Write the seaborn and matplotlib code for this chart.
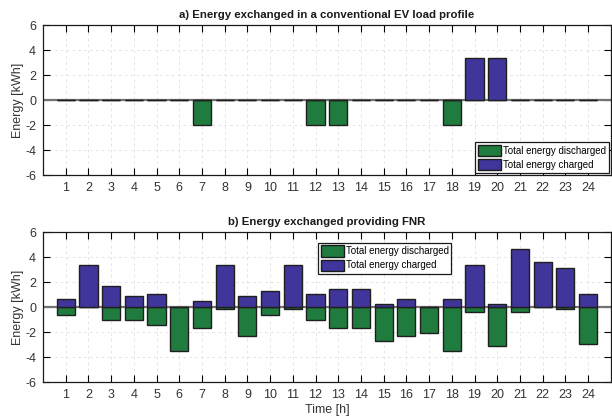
import numpy as np
import pandas as pd
import matplotlib
matplotlib.use('Agg')
import matplotlib.pyplot as plt
import seaborn as sns

hours = list(range(1, 25))

# a) conventional EV load profile
conv_discharged = [0, 0, 0, 0, 0, 0, -2, 0, 0, 0, 0, -2, -2, 0, 0, 0, 0, -2, 0, 0, 0, 0, 0, 0]
conv_charged = [0, 0, 0, 0, 0, 0, 0, 0, 0, 0, 0, 0, 0, 0, 0, 0, 0, 0, 3.33, 3.33, 0, 0, 0, 0]

# b) providing FNR
fnr_discharged = [-0.61, 0, -1.07, -1.07, -1.47, -3.55, -1.65, -0.19, -2.29, -0.61, -0.19, -1.07,
                  -1.65, -1.65, -2.75, -2.29, -2.11, -3.55, -0.43, -3.12, -0.43, 0, -0.19, -2.93]
fnr_charged = [0.64, 3.36, 1.68, 0.85, 1.07, 0, 0.45, 3.36, 0.85, 1.28, 3.36, 1.07,
               1.47, 1.47, 0.21, 0.64, 0, 0.64, 3.36, 0.21, 4.61, 3.57, 3.15, 1.07]

lbl_dis = 'Total energy discharged'
lbl_chg = 'Total energy charged'
colores = {lbl_dis: '#1f7b3e', lbl_chg: '#40359a'}

plt.rcParams['axes.unicode_minus'] = False
plt.rcParams['font.family'] = ['Liberation Sans', 'DejaVu Sans']


def armar_df(dis, chg):
    return pd.concat([
        pd.DataFrame({'hour': hours, 'energy': dis, 'kind': lbl_dis}),
        pd.DataFrame({'hour': hours, 'energy': chg, 'kind': lbl_chg}),
    ], ignore_index=True)


fig = plt.figure(figsize=(6.12, 4.17), dpi=100)
ax1 = fig.add_axes([0.0703, 0.5803, 0.9277, 0.3597])
ax2 = fig.add_axes([0.0703, 0.0839, 0.9277, 0.3597])

paneles = [
    (ax1, armar_df(conv_discharged, conv_charged), 'a) Energy exchanged in a conventional EV load profile'),
    (ax2, armar_df(fnr_discharged, fnr_charged), 'b) Energy exchanged providing FNR'),
]

for ax, df, titulo in paneles:
    ax.set_axisbelow(True)
    ax.axhline(0, color='0.45', lw=1.6, zorder=1)
    sns.barplot(data=df, x='hour', y='energy', hue='kind', dodge=False, width=0.8,
                hue_order=[lbl_dis, lbl_chg], palette=colores, edgecolor='0.12',
                linewidth=1.0, errorbar=None, saturation=1, ax=ax, zorder=2)
    ax.set_xlim(-1, 24)
    ax.set_ylim(-6, 6)
    ax.set_yticks(np.arange(-6, 7, 2))
    ax.grid(True, ls=(0, (3, 4)), color='0.87', lw=0.6)
    ax.tick_params(direction='in', top=True, right=True, length=5, width=0.8,
                   labelsize=9, labelcolor='0.2', pad=5)
    for s in ax.spines.values():
        s.set_color('0.1')
        s.set_linewidth(0.9)
    ax.set_xlabel('')
    ax.set_ylabel('Energy [kWh]', fontsize=9, color='0.2', labelpad=1)
    ax.set_title(titulo, fontsize=8.2, fontweight='bold', color='0.1', pad=5,
                 family=['Liberation Sans Narrow', 'Liberation Sans'])

leg_kw = dict(fontsize=7, fancybox=False, framealpha=1, edgecolor='0.1',
              handlelength=2.4, handleheight=1.4, handletextpad=0.15,
              labelspacing=0.3, borderpad=0.3)
leg1 = ax1.legend(loc='lower right', borderaxespad=0.2, **leg_kw)
leg2 = ax2.legend(loc='upper left', bbox_to_anchor=(0.484, 0.93), borderaxespad=0, **leg_kw)
for lg in (leg1, leg2):
    lg.get_frame().set_linewidth(0.9)
    for p in lg.get_patches():
        p.set_edgecolor('0.1')

ax2.set_xlabel('Time [h]', fontsize=9, color='0.2', labelpad=2)

fig.savefig('out.png', dpi=100)
